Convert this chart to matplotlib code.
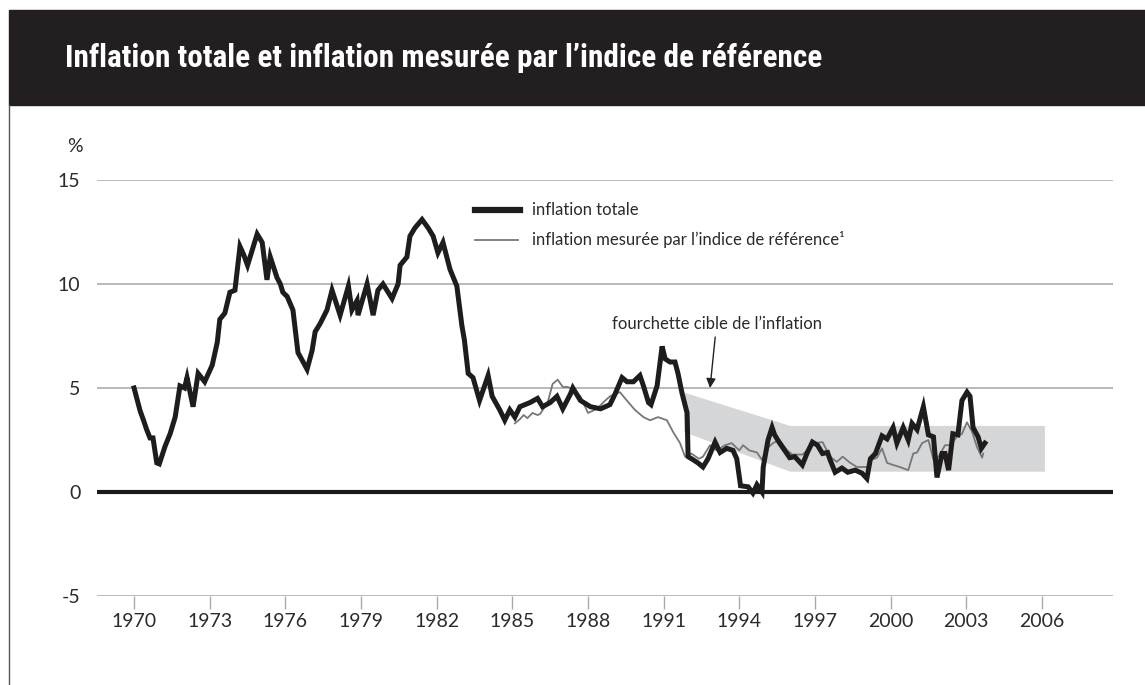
import matplotlib.pyplot as plt
from matplotlib.patches import Rectangle
from matplotlib.lines import Line2D

# inflation totale
tot_years = [1970.0, 1970.24, 1970.36, 1970.5, 1970.63, 1970.75, 1970.9, 1971.0, 1971.23, 1971.43,
             1971.63, 1971.82, 1972.0, 1972.1, 1972.34, 1972.54, 1972.8, 1973.1, 1973.3, 1973.4,
             1973.6, 1973.8, 1974.0, 1974.2, 1974.35, 1974.5, 1974.88, 1975.08, 1975.27, 1975.4,
             1975.67, 1975.8, 1975.9, 1976.07, 1976.3, 1976.5, 1976.66, 1976.86, 1977.06, 1977.18,
             1977.38, 1977.65, 1977.85, 1978.17, 1978.5, 1978.64, 1978.84, 1978.88, 1979.24, 1979.48,
             1979.67, 1979.87, 1980.23, 1980.47, 1980.55, 1980.82, 1980.94, 1981.14, 1981.42, 1981.66,
             1981.86, 1982.05, 1982.25, 1982.53, 1982.8, 1983.0, 1983.1, 1983.25, 1983.44, 1983.7,
             1984.04, 1984.2, 1984.5, 1984.7, 1984.9, 1985.1, 1985.3, 1985.7, 1986.0, 1986.2,
             1986.5, 1986.77, 1987.0, 1987.3, 1987.4, 1987.7, 1988.1, 1988.5, 1988.87, 1989.07,
             1989.35, 1989.55, 1989.8, 1990.06, 1990.2, 1990.4, 1990.5, 1990.74, 1990.94, 1991.06,
             1991.25, 1991.45, 1991.57, 1991.73, 1991.93, 1991.97, 1992.17, 1992.36, 1992.56, 1992.76,
             1993.04, 1993.24, 1993.5, 1993.75, 1993.9, 1994.05, 1994.35, 1994.54, 1994.7, 1994.9,
             1994.95, 1995.14, 1995.3, 1995.4, 1995.6, 1995.8, 1996.0, 1996.2, 1996.5, 1996.7,
             1996.9, 1997.1, 1997.3, 1997.5, 1997.6, 1997.8, 1998.07, 1998.3, 1998.6, 1998.87,
             1999.06, 1999.2, 1999.4, 1999.66, 1999.86, 2000.1, 2000.25, 2000.5, 2000.7, 2000.85,
             2001.05, 2001.3, 2001.5, 2001.7, 2001.84, 2002.04, 2002.16, 2002.3, 2002.47, 2002.67,
             2002.83, 2003.03, 2003.15, 2003.27, 2003.47, 2003.6, 2003.74]
tot_vals = [5.0, 3.9, 3.5, 3.0, 2.6, 2.6, 1.4, 1.35, 2.2, 2.8,
            3.6, 5.1, 5.0, 5.5, 4.1, 5.7, 5.3, 6.1, 7.2, 8.3,
            8.6, 9.6, 9.7, 11.8, 11.4, 10.9, 12.4, 12.0, 10.2, 11.3,
            10.3, 10.0, 9.6, 9.4, 8.75, 6.7, 6.35, 5.9, 6.8, 7.7,
            8.1, 8.75, 9.7, 8.5, 9.9, 8.75, 9.2, 8.5, 10.0, 8.5,
            9.7, 10.0, 9.3, 10.0, 10.9, 11.3, 12.3, 12.7, 13.1, 12.7,
            12.3, 11.5, 12.0, 10.7, 9.9, 8.0, 7.3, 5.7, 5.5, 4.4,
            5.6, 4.6, 3.95, 3.45, 3.95, 3.6, 4.1, 4.3, 4.5, 4.1,
            4.3, 4.6, 4.0, 4.7, 5.0, 4.4, 4.1, 4.0, 4.2, 4.7,
            5.5, 5.3, 5.3, 5.6, 5.1, 4.3, 4.2, 5.1, 7.0, 6.4,
            6.25, 6.25, 5.7, 4.75, 3.8, 1.7, 1.55, 1.4, 1.2, 1.6,
            2.4, 1.9, 2.1, 2.0, 1.6, 0.3, 0.25, -0.05, 0.35, 0.0,
            1.2, 2.5, 3.1, 2.75, 2.35, 2.0, 1.65, 1.7, 1.3, 1.9,
            2.4, 2.25, 1.85, 1.9, 1.55, 0.95, 1.15, 0.95, 1.05, 0.9,
            0.65, 1.6, 1.85, 2.7, 2.55, 3.1, 2.35, 3.1, 2.5, 3.3,
            3.0, 4.1, 2.75, 2.65, 0.7, 1.85, 1.85, 1.05, 2.8, 2.75,
            4.4, 4.8, 4.6, 3.1, 2.65, 2.1, 2.35]

# inflation mesurée par l'indice de référence
core_years = [1985.1, 1985.3, 1985.45, 1985.6, 1985.8, 1986.0, 1986.1, 1986.4, 1986.6, 1986.8,
              1987.0, 1987.2, 1987.45, 1987.7, 1988.0, 1988.36, 1988.6, 1988.87, 1989.27, 1989.47,
              1989.86, 1990.2, 1990.46, 1990.78, 1991.13, 1991.37, 1991.65, 1991.85, 1992.1, 1992.4,
              1992.56, 1992.84, 1993.1, 1993.43, 1993.7, 1994.0, 1994.15, 1994.4, 1994.7, 1994.9,
              1995.1, 1995.34, 1995.6, 1995.9, 1996.1, 1996.5, 1996.7, 1997.0, 1997.3, 1997.6,
              1997.87, 1998.1, 1998.4, 1998.67, 1998.9, 1999.06, 1999.26, 1999.46, 1999.66, 1999.86,
              2000.1, 2000.37, 2000.7, 2000.9, 2001.05, 2001.25, 2001.5, 2001.7, 2001.9, 2002.16,
              2002.36, 2002.63, 2002.83, 2003.03, 2003.23, 2003.43, 2003.63, 2003.67]
core_vals = [3.3, 3.5, 3.7, 3.55, 3.8, 3.7, 3.75, 4.3, 5.2, 5.4,
             5.05, 5.05, 4.9, 4.6, 3.8, 4.0, 4.3, 4.6, 4.8, 4.5,
             3.95, 3.6, 3.45, 3.6, 3.45, 2.9, 2.35, 1.7, 1.85, 1.6,
             1.7, 2.25, 2.0, 2.25, 2.35, 2.0, 2.25, 2.0, 1.9, 1.55,
             2.1, 2.35, 2.5, 2.0, 1.8, 1.8, 2.0, 2.35, 2.4, 1.7,
             1.45, 1.7, 1.4, 1.2, 1.2, 1.2, 1.55, 1.65, 2.1, 1.4,
             1.3, 1.2, 1.05, 1.85, 1.9, 2.35, 2.5, 1.55, 1.7, 2.25,
             2.25, 2.65, 2.8, 3.35, 2.9, 2.15, 1.65, 1.85]

# fourchette cible
band_years = [1991.8, 1996.0, 2006.1]
band_low = [2.9, 1.0, 1.0]
band_high = [4.8, 3.2, 3.2]

xticks = list(range(1970, 2007, 3))
yticks = [-5, 0, 5, 10, 15]

W, H = 1145, 685
fig = plt.figure(figsize=(W / 100, H / 100), dpi=100)
fig.patch.set_facecolor('white')

lab_font = ['Lato', 'DejaVu Sans']
txt_col = '#2a2a2a'

# bandeau de titre
fig.patches.append(Rectangle((9 / W, 1 - 105 / H), 1 - 9 / W, 95 / H,
                             transform=fig.transFigure, color='#231f20', zorder=0))
fig.lines.append(Line2D([9 / W, 9 / W], [0, 1 - 105 / H], transform=fig.transFigure,
                        color='#555555', lw=1))
fig.text(65 / W, 1 - 58 / H, "Inflation totale et inflation mesurée par l\u2019indice de référence",
         color='white', fontsize=22.5, fontweight='bold', va='center', ha='left',
         family=['Roboto Condensed', 'Roboto', 'DejaVu Sans'], fontstretch='condensed')

ax = fig.add_axes([97 / W, (H - 596) / H, (1113 - 97) / W, (596 - 180) / H])
ax.set_xlim(1968.53, 2008.82)
ax.set_ylim(-5, 15)
for s in ax.spines.values():
    s.set_visible(False)

ax.set_yticks(yticks)
ax.set_yticklabels([str(v) for v in yticks], family=lab_font, fontsize=14, color=txt_col)
ax.set_xticks(xticks)
ax.set_xticklabels([str(v) for v in xticks], family=lab_font, fontsize=14, color=txt_col)
ax.tick_params(axis='y', length=0, pad=12)
ax.tick_params(axis='x', length=9.5, width=1, color='#aaaaaa', pad=3)
ax.yaxis.grid(True, color='#b3b3b3', lw=1.3)
ax.set_axisbelow(True)
ax.axhline(0, color='#1a1a1a', lw=3, zorder=2)

ax.fill_between(band_years, band_low, band_high, color='#d5d6d8', lw=0, zorder=1)
ax.plot(core_years, core_vals, color='#777777', lw=1.3, zorder=3)
ax.plot(tot_years, tot_vals, color='#1e1c1c', lw=3.6, zorder=4, solid_joinstyle='miter')

ax.annotate("fourchette cible de l\u2019inflation", xy=(1992.84, 5.0), xytext=(1993.1, 8.1),
            ha='center', va='center', fontsize=12, family=lab_font, color=txt_col,
            arrowprops=dict(arrowstyle='-|>', color='#222222', lw=1,
                            shrinkA=2, shrinkB=0, mutation_scale=14))

# légende manuelle
ax.plot([0.372, 0.416], [0.9275, 0.9275], transform=ax.transAxes, color='#1e1c1c', lw=4.5)
ax.plot([0.372, 0.414], [0.856, 0.856], transform=ax.transAxes, color='#777777', lw=1.3)
ax.text(0.428, 0.9275, "inflation totale", transform=ax.transAxes, va='center',
        fontsize=12, family=lab_font, color=txt_col)
ax.text(0.428, 0.856, "inflation mesurée par l\u2019indice de référence\u00b9",
        transform=ax.transAxes, va='center', fontsize=12, family=lab_font, color=txt_col)

fig.text(75 / W, 1 - 146 / H, "%", ha='center', va='center', fontsize=14,
         family=lab_font, color=txt_col)

fig.savefig('out.png', dpi=100)
